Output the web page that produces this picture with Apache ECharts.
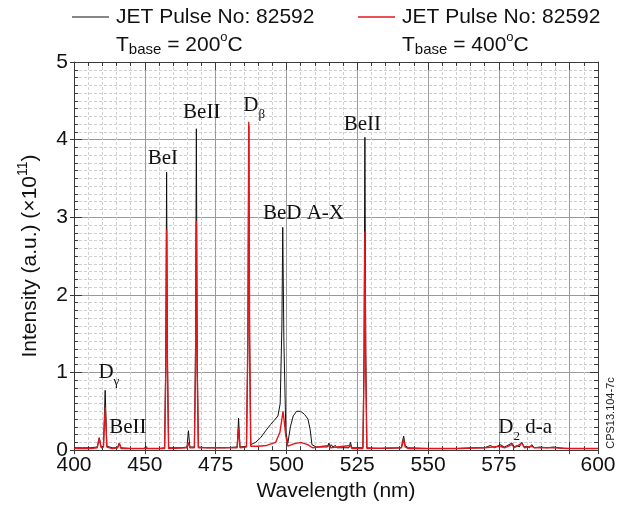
<!DOCTYPE html>
<html>
<head>
<meta charset="utf-8">
<script src="https://cdn.jsdelivr.net/npm/echarts@6/dist/echarts.min.js"></script>
<style>
  html, body { margin: 0; padding: 0; background: #fff; }
  #chart { width: 620px; height: 507px; }
</style>
</head>
<body>
<div id="chart"></div>
<script>
// Spectral range and tick layout (nm, intensity in units of 1e11)
const wavelengthRange = [425, 610];
const wavelengthStep = 25;
const intensityRange = [0, 5];
const intensityStep = 1;

// Wavelength tick texts, keyed by tick position (empty = tick without text)
const wavelengthTickValues = [425, 450, 475, 500, 525, 550, 575, 600, 610];
const wavelengthTickTexts = ['400', '450', '475', '500', '525', '550', '575', '', '600'];

// JET pulse 82592, T_base = 200 °C : [wavelength (nm), intensity (×1e11)]
const pulseBase200 = [
  [425.0, 0.03], [428.0, 0.03], [431.0, 0.03], [433.2, 0.04], [433.9, 0.16], [434.6, 0.04],
  [435.4, 0.05], [436.0, 0.77], [436.6, 0.05], [438.5, 0.03], [440.4, 0.03], [441.0, 0.09],
  [441.6, 0.03], [445.0, 0.02], [449.8, 0.02], [450.4, 0.05], [451.0, 0.02], [455.0, 0.02],
  [457.0, 0.03], [457.4, 1.20], [457.7, 3.58], [458.0, 1.20], [458.4, 0.03], [463.0, 0.03],
  [464.9, 0.04], [465.4, 0.25], [465.9, 0.04], [467.5, 0.04], [467.9, 1.30], [468.2, 4.14],
  [468.5, 1.30], [468.9, 0.04], [472.0, 0.03], [478.0, 0.03], [482.6, 0.04], [483.1, 0.41],
  [483.6, 0.04], [485.9, 0.05], [486.4, 1.40], [486.7, 4.18], [487.0, 1.40], [487.4, 0.07],
  [489.1, 0.10], [490.9, 0.16], [492.7, 0.25], [494.4, 0.33], [495.6, 0.38], [497.0, 0.44],
  [497.8, 0.60], [498.4, 1.60], [498.7, 2.87], [499.1, 1.40], [499.8, 0.23], [500.5, 0.09],
  [501.4, 0.30], [502.4, 0.44], [503.6, 0.50], [505.0, 0.50], [506.4, 0.46], [507.6, 0.40],
  [508.4, 0.26], [509.0, 0.07], [510.5, 0.04], [514.5, 0.04], [515.0, 0.09], [515.4, 0.04],
  [515.8, 0.07], [516.4, 0.04], [517.3, 0.06], [517.8, 0.03], [522.1, 0.03], [522.6, 0.10],
  [523.1, 0.03], [527.0, 0.03], [527.4, 1.30], [527.7, 4.03], [528.0, 1.30], [528.4, 0.03],
  [533.0, 0.02], [540.6, 0.03], [541.0, 0.12], [541.4, 0.18], [541.9, 0.06], [543.0, 0.03],
  [550.0, 0.02], [560.0, 0.02], [566.0, 0.03], [570.0, 0.03], [572.0, 0.06], [573.5, 0.03],
  [575.5, 0.07], [577.0, 0.04], [579.6, 0.09], [580.5, 0.04], [581.3, 0.06], [582.2, 0.04],
  [583.1, 0.10], [584.0, 0.04], [584.9, 0.05], [585.8, 0.03], [586.6, 0.07], [587.5, 0.03],
  [589.6, 0.04], [592.0, 0.03], [594.3, 0.04], [598.0, 0.02], [604.0, 0.02], [610.0, 0.02]
];

// JET pulse 82592, T_base = 400 °C
const pulseBase400 = [
  [425.0, 0.02], [431.0, 0.02], [433.2, 0.03], [433.9, 0.15], [434.6, 0.03], [435.4, 0.04],
  [436.0, 0.55], [436.6, 0.04], [438.5, 0.02], [440.4, 0.03], [441.0, 0.09], [441.6, 0.02],
  [449.8, 0.02], [450.4, 0.04], [451.0, 0.02], [457.0, 0.02], [457.4, 1.00], [457.7, 2.84],
  [458.0, 1.00], [458.4, 0.02], [464.9, 0.03], [465.4, 0.10], [465.9, 0.03], [467.5, 0.03],
  [467.9, 1.00], [468.2, 2.95], [468.5, 1.00], [468.9, 0.03], [482.6, 0.03], [483.1, 0.28],
  [483.6, 0.03], [485.9, 0.04], [486.4, 1.50], [486.7, 4.23], [487.0, 1.50], [487.4, 0.05],
  [490.0, 0.05], [493.0, 0.06], [496.2, 0.10], [497.7, 0.23], [498.8, 0.50], [499.8, 0.18],
  [500.5, 0.05], [502.6, 0.08], [505.0, 0.10], [507.5, 0.07], [509.2, 0.03], [515.0, 0.06],
  [515.5, 0.03], [522.6, 0.06], [523.1, 0.02], [527.0, 0.02], [527.4, 1.00], [527.7, 2.82],
  [528.0, 1.00], [528.4, 0.02], [540.6, 0.03], [541.4, 0.14], [541.9, 0.04], [543.0, 0.02],
  [560.0, 0.02], [570.0, 0.03], [575.5, 0.05], [577.0, 0.03], [579.6, 0.07], [580.5, 0.03],
  [583.1, 0.09], [584.0, 0.03], [586.6, 0.05], [587.5, 0.03], [594.3, 0.03], [600.0, 0.02],
  [610.0, 0.02]
];

// Line identifications: text pieces and the spectrum point each one sits at
const lineIds = [
  { at: [437.3, 1.00], pieces: [['D'], ['γ', 'sub']] },
  { at: [444.0, 0.29], pieces: [['BeII']] },
  { at: [456.4, 3.76], pieces: [['BeI']] },
  { at: [470.1, 4.35], pieces: [['BeII']] },
  { at: [488.6, 4.44], pieces: [['D'], ['β', 'sub']] },
  { at: [506.0, 3.05], pieces: [['BeD A-X']] },
  { at: [526.8, 4.20], pieces: [['BeII']] },
  { at: [584.3, 0.29], pieces: [['D'], ['2', 'sub'], [' d-a']] }
];

const legendEntries = [
  { color: '#111111', pulse: 'JET Pulse No: 82592', tbase: '200' },
  { color: '#e2171d', pulse: 'JET Pulse No: 82592', tbase: '400' }
];

const SANS = '"Liberation Sans", Arial, Helvetica, sans-serif';
const SERIF = '"Liberation Serif", "Times New Roman", serif';

const chart = echarts.init(document.getElementById('chart'), null, { renderer: 'canvas' });

const axisDark = '#3a3a3a';
const tickCommon = { show: true, inside: true, length: 8, lineStyle: { color: axisDark, width: 1 } };
const minorTickCommon = { show: true, inside: true, length: 4, lineStyle: { color: axisDark, width: 1 } };
// short outward stubs so the major ticks cross the frame
const outerStub = { show: true, inside: false, length: 4, lineStyle: { color: axisDark, width: 1 } };

function plainAxis(extra) {
  return Object.assign({
    type: 'value',
    axisLine: { show: true, onZero: false, lineStyle: { color: axisDark, width: 1 } },
    axisTick: tickCommon,
    axisLabel: { show: false },
    splitLine: { show: false }
  }, extra);
}

function wavelengthText(v) {
  const i = wavelengthTickValues.indexOf(Math.round(v));
  return i >= 0 ? wavelengthTickTexts[i] : '';
}

chart.setOption({
  animation: false,
  backgroundColor: '#ffffff',
  grid: { left: 74, right: 22, top: 62, bottom: 56, containLabel: false },
  xAxis: [
    plainAxis({
      min: wavelengthRange[0], max: wavelengthRange[1], interval: wavelengthStep,
      name: 'Wavelength (nm)', nameLocation: 'middle', nameGap: 30,
      nameTextStyle: { fontFamily: SANS, fontSize: 21, color: '#111' },
      minorTick: Object.assign({ splitNumber: 5 }, minorTickCommon),
      axisLabel: {
        show: true, fontFamily: SANS, fontSize: 21, color: '#111', margin: 5,
        showMinLabel: true, showMaxLabel: true, formatter: wavelengthText
      },
      splitLine: { show: true, lineStyle: { color: '#9a9a9a', width: 1 } },
      minorSplitLine: { show: true, lineStyle: { color: '#d0d0d0', width: 1, type: [3, 2] } }
    }),
    plainAxis({
      position: 'top', min: wavelengthRange[0], max: wavelengthRange[1], interval: wavelengthStep,
      minorTick: Object.assign({ splitNumber: 5 }, minorTickCommon)
    }),
    plainAxis({
      position: 'bottom', offset: 0, min: wavelengthRange[0], max: wavelengthRange[1], interval: wavelengthStep,
      axisLine: { show: false }, axisTick: outerStub
    })
  ],
  yAxis: [
    plainAxis({
      min: intensityRange[0], max: intensityRange[1], interval: intensityStep,
      minorTick: Object.assign({ splitNumber: 10 }, minorTickCommon),
      axisLabel: { show: true, fontFamily: SANS, fontSize: 21, color: '#111', margin: 6 },
      splitLine: { show: true, lineStyle: { color: '#9a9a9a', width: 1 } },
      minorSplitLine: { show: true, lineStyle: { color: '#d0d0d0', width: 1, type: [3, 2] } }
    }),
    plainAxis({
      position: 'right', min: intensityRange[0], max: intensityRange[1], interval: intensityStep,
      minorTick: Object.assign({ splitNumber: 10 }, minorTickCommon)
    }),
    plainAxis({
      position: 'left', offset: 0, min: intensityRange[0], max: intensityRange[1], interval: intensityStep,
      axisLine: { show: false }, axisTick: outerStub
    })
  ],
  series: [
    {
      type: 'line', name: 'T_base 200', data: pulseBase200, xAxisIndex: 0, yAxisIndex: 0,
      showSymbol: false, symbol: 'none', silent: true, z: 3,
      lineStyle: { color: legendEntries[0].color, width: 1 }
    },
    {
      type: 'line', name: 'T_base 400', data: pulseBase400, xAxisIndex: 0, yAxisIndex: 0,
      showSymbol: false, symbol: 'none', silent: true, z: 4,
      lineStyle: { color: legendEntries[1].color, width: 1.4 }
    }
  ]
});

// ---- text helpers: lay out runs of differently sized text side by side ----
const measureCtx = document.createElement('canvas').getContext('2d');
function widthOf(str, size, family) {
  measureCtx.font = size + 'px ' + family;
  return measureCtx.measureText(str).width;
}
// pieces: [text, size, dy]; returns text elements starting at x0
function runElements(pieces, family, x0, y0, color) {
  let x = x0;
  return pieces.map(function (p) {
    const el = {
      type: 'text', x: x, y: y0 + (p[2] || 0), silent: true,
      style: {
        text: p[0], fontSize: p[1], fontFamily: family, fill: color || '#111',
        textAlign: 'left', textVerticalAlign: 'middle', align: 'left', verticalAlign: 'middle'
      }
    };
    x += widthOf(p[0], p[1], family);
    return el;
  });
}
function runWidth(pieces, family) {
  return pieces.reduce(function (s, p) { return s + widthOf(p[0], p[1], family); }, 0);
}

const graphics = [];

// Legend
const legendX = [72, 358];
legendEntries.forEach(function (entry, i) {
  const x = legendX[i];
  graphics.push({
    type: 'line', silent: true,
    shape: { x1: x, y1: 17, x2: x + 37, y2: 17 },
    style: { stroke: entry.color, lineWidth: i === 0 ? 1.2 : 1.5 }
  });
  graphics.push.apply(graphics, runElements([[entry.pulse, 21, 0]], SANS, x + 44, 17));
  graphics.push.apply(graphics, runElements([
    ['T', 21, 0], ['base', 15, 5], [' = ' + entry.tbase, 21, 0], ['o', 13, -8], ['C', 21, 0]
  ], SANS, x + 44, 45));
});

// Y axis title, rotated
const yTitle = [['Intensity (a.u.) (\u00d710', 21, 0], ['11', 14, -7], [')', 21, 0]];
const yTitleW = runWidth(yTitle, SANS);
graphics.push({
  type: 'group', x: 30, y: 256, rotation: Math.PI / 2,
  children: runElements(yTitle, SANS, -yTitleW / 2, 0)
});

// Figure reference code along the right edge
graphics.push({
  type: 'text', x: 611, y: 413, rotation: Math.PI / 2, silent: true,
  style: {
    text: 'CPS13.104-7c', fontSize: 11, fontFamily: SANS, fill: '#222',
    textAlign: 'center', textVerticalAlign: 'middle', align: 'center', verticalAlign: 'middle'
  }
});

// Line identifications, anchored through the axes
lineIds.forEach(function (id) {
  const p = chart.convertToPixel({ xAxisIndex: 0, yAxisIndex: 0 }, id.at);
  const pieces = id.pieces.map(function (q) {
    return q[1] === 'sub' ? [q[0], 13, 9] : [q[0], 21, 0];
  });
  const w = runWidth(pieces, SERIF);
  graphics.push.apply(graphics, runElements(pieces, SERIF, p[0] - w / 2, p[1]));
});

chart.setOption({ graphic: graphics });
</script>
</body>
</html>
